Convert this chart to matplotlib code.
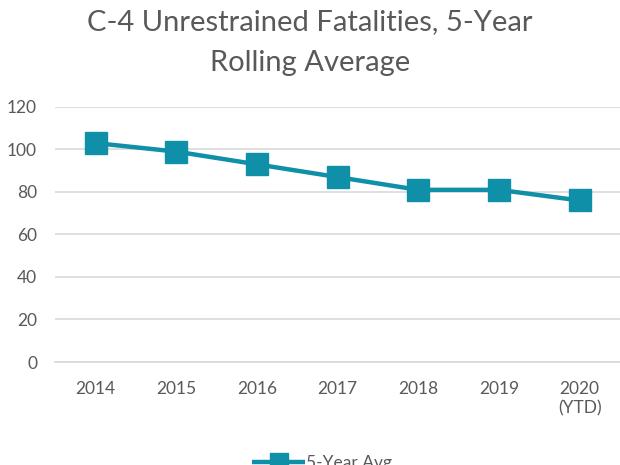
import matplotlib
matplotlib.use("Agg")
import matplotlib.pyplot as plt

categories = ["2014", "2015", "2016", "2017", "2018", "2019", "2020\n(YTD)"]
values = [103, 99, 93, 87, 81, 81, 76]
yticks = [0, 20, 40, 60, 80, 100, 120]
series_name = "5-Year Avg"
title = "C-4 Unrestrained Fatalities, 5-Year\nRolling Average"

plt.rcParams['font.family'] = ['Lato', 'DejaVu Sans']
color = "#0f90a8"
gray = "#595959"

fig = plt.figure(figsize=(6.2, 4.65), dpi=100)
ax = fig.add_axes([0.089, 0.2215, 0.911, 0.5485])
x = list(range(len(categories)))
ax.plot(x, values, color=color, lw=3.2, marker="s", markersize=16.5,
        label=series_name, solid_capstyle="butt")
ax.set_xlim(-0.5, len(categories) - 0.5)
ax.set_ylim(0, 120)
ax.set_yticks(yticks)
ax.set_xticks(x)
ax.set_xticklabels(categories)
ax.grid(axis="y", color="#d9d9d9", lw=1.2)
ax.set_axisbelow(True)
for s in ax.spines.values():
    s.set_visible(False)
ax.spines["bottom"].set_visible(True)
ax.spines["bottom"].set_color("#d9d9d9")
ax.spines["bottom"].set_linewidth(1.2)
ax.tick_params(axis="both", length=0, colors=gray, labelsize=12.5)
ax.tick_params(axis="x", pad=14)
ax.tick_params(axis="y", pad=13)

fig.text(0.5, 0.98, title, ha="center", va="top", fontsize=21,
         color=gray, linespacing=1.7)

fig.legend(loc="center", bbox_to_anchor=(0.52, 0.005), frameon=False,
           fontsize=12.5, labelcolor=gray, handlelength=3.0,
           handletextpad=0.1, markerscale=0.75)

fig.savefig("out.png", dpi=100)
